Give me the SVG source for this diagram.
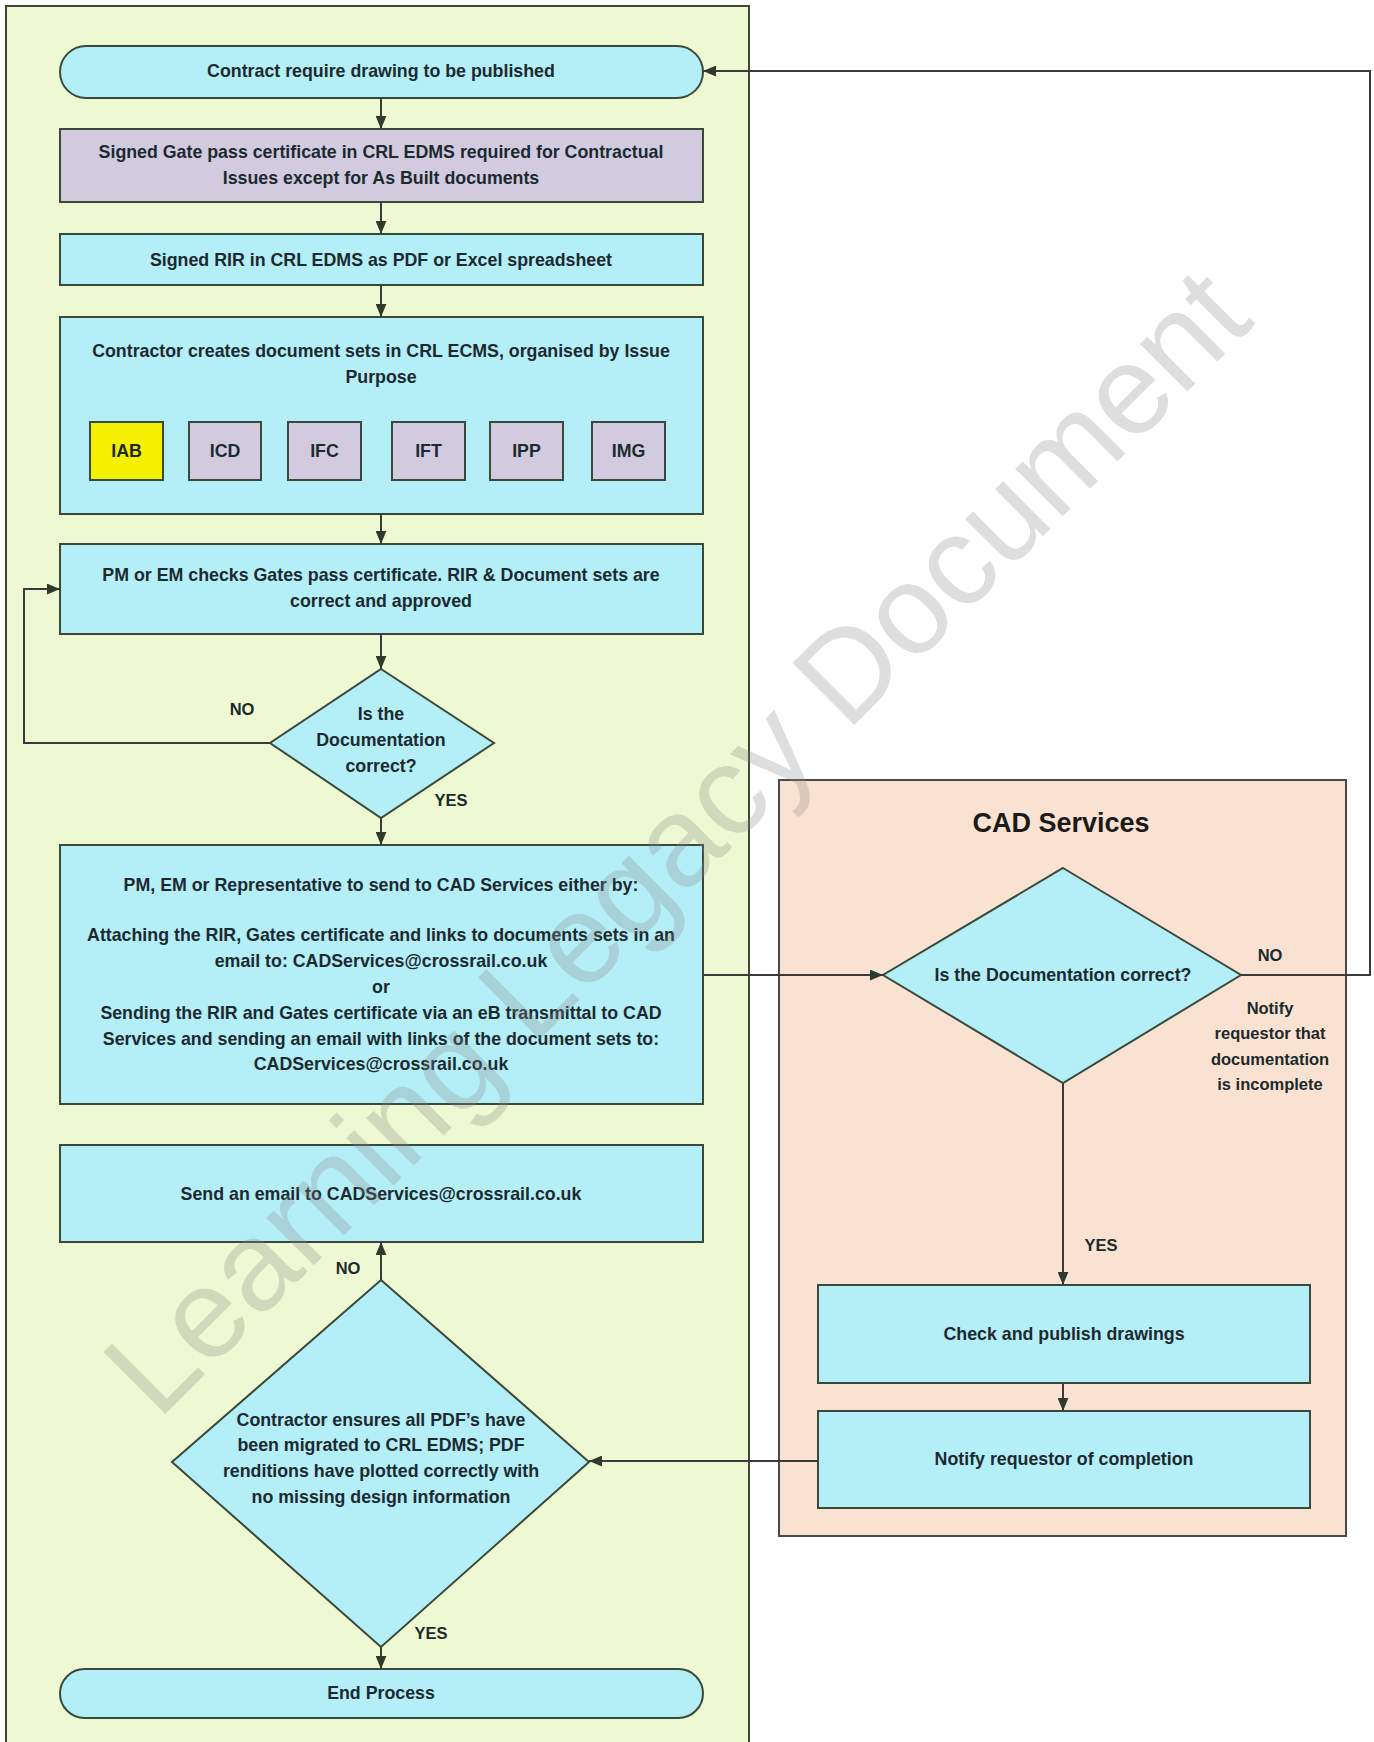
<svg xmlns="http://www.w3.org/2000/svg" width="1374" height="1742" viewBox="0 0 1374 1742">
<style>
.panel{fill:#eef8d2;stroke:#3a4a36;stroke-width:2}
.cad{fill:#fae2d3;stroke:#4a4a4a;stroke-width:2}
.box{fill:#b4eef7;stroke:#3a4a3a;stroke-width:2}
.pur{fill:#d2cbdf;stroke:#3a4a3a;stroke-width:2}
.yel{fill:#f5ef00;stroke:#3a4a3a;stroke-width:2}
.t{font-family:"Liberation Sans",Arial,sans-serif;font-weight:bold;font-size:17.8px;fill:#1c2a30;text-anchor:middle;dominant-baseline:central}
.lbl{font-family:"Liberation Sans",Arial,sans-serif;font-weight:bold;font-size:16.5px;fill:#1c2a2a;text-anchor:middle;dominant-baseline:central}
.title{font-family:"Liberation Sans",Arial,sans-serif;font-weight:bold;font-size:27px;fill:#1a1a1a;text-anchor:middle;dominant-baseline:central}
.ln{fill:none;stroke:#3a3a3a;stroke-width:2}
.wm{font-family:"Liberation Sans",Arial,sans-serif;font-size:127px;fill:#8a8a8a;fill-opacity:0.28;text-anchor:middle;dominant-baseline:central}
</style>
<defs>
<marker id="ah" viewBox="0 0 12 10" refX="12" refY="5" markerWidth="13" markerHeight="11" markerUnits="userSpaceOnUse" orient="auto">
<path d="M0,0 L12,5 L0,10 z" fill="#2e3a2e"/>
</marker>
</defs>

<g id="lane-main"><rect class="panel" x="6" y="6" width="743" height="1745"/></g>
<g id="lane-cad"><rect class="cad" x="779" y="780" width="567" height="756"/>
<text class="title" x="1061" y="823">CAD Services</text></g>

<g id="n-start"><rect class="box" x="60" y="46" width="643" height="52" rx="26"/>
<text class="t" x="381" y="71">Contract require drawing to be published</text></g>

<g id="n-gate"><rect class="pur" x="60" y="129" width="643" height="73"/>
<text class="t" x="381" y="152">Signed Gate pass certificate in CRL EDMS required for Contractual</text>
<text class="t" x="381" y="178">Issues except for As Built documents</text></g>

<g id="n-rir"><rect class="box" x="60" y="234" width="643" height="51"/>
<text class="t" x="381" y="260">Signed RIR in CRL EDMS as PDF or Excel spreadsheet</text></g>

<g id="n-sets"><rect class="box" x="60" y="317" width="643" height="197"/>
<text class="t" x="381" y="351">Contractor creates document sets in CRL ECMS, organised by Issue</text>
<text class="t" x="381" y="377">Purpose</text></g>
<g id="n-iab"><rect class="yel" x="90" y="422" width="73" height="58"/><text class="t" x="126.5" y="451">IAB</text></g>
<g id="n-icd"><rect class="pur" x="189" y="422" width="72" height="58"/><text class="t" x="225" y="451">ICD</text></g>
<g id="n-ifc"><rect class="pur" x="288" y="422" width="73" height="58"/><text class="t" x="324.5" y="451">IFC</text></g>
<g id="n-ift"><rect class="pur" x="392" y="422" width="73" height="58"/><text class="t" x="428.5" y="451">IFT</text></g>
<g id="n-ipp"><rect class="pur" x="490" y="422" width="73" height="58"/><text class="t" x="526.5" y="451">IPP</text></g>
<g id="n-img"><rect class="pur" x="592" y="422" width="73" height="58"/><text class="t" x="628.5" y="451">IMG</text></g>

<g id="n-check"><rect class="box" x="60" y="544" width="643" height="90"/>
<text class="t" x="381" y="575">PM or EM checks Gates pass certificate. RIR &amp; Document sets are</text>
<text class="t" x="381" y="601">correct and approved</text></g>

<g id="n-dec1"><polygon class="box" points="381,669 494,743 381,818 270,743"/>
<text class="t" x="381" y="714">Is the</text>
<text class="t" x="381" y="740">Documentation</text>
<text class="t" x="381" y="766">correct?</text></g>

<g id="n-send"><rect class="box" x="60" y="845" width="643" height="259"/>
<text class="t" x="381" y="885">PM, EM or Representative to send to CAD Services either by:</text>
<text class="t" x="381" y="935">Attaching the RIR, Gates certificate and links to documents sets in an</text>
<text class="t" x="381" y="961">email to: CADServices@crossrail.co.uk</text>
<text class="t" x="381" y="987">or</text>
<text class="t" x="381" y="1013">Sending the RIR and Gates certificate via an eB transmittal to CAD</text>
<text class="t" x="381" y="1039">Services and sending an email with links of the document sets to:</text>
<text class="t" x="381" y="1064">CADServices@crossrail.co.uk</text></g>

<g id="n-email"><rect class="box" x="60" y="1145" width="643" height="97"/>
<text class="t" x="381" y="1194">Send an email to CADServices@crossrail.co.uk</text></g>

<g id="n-dec2"><polygon class="box" points="381,1280 589,1462 381,1647 172,1462"/>
<text class="t" x="381" y="1420">Contractor ensures all PDF’s have</text>
<text class="t" x="381" y="1445">been migrated to CRL EDMS; PDF</text>
<text class="t" x="381" y="1471">renditions have plotted correctly with</text>
<text class="t" x="381" y="1497">no missing design information</text></g>

<g id="n-end"><rect class="box" x="60" y="1669" width="643" height="49" rx="24.5"/>
<text class="t" x="381" y="1693">End Process</text></g>

<g id="n-dec3"><polygon class="box" points="1063,868 1241,975 1063,1083 883,975"/>
<text class="t" x="1063" y="975">Is the Documentation correct?</text></g>

<g id="n-publish"><rect class="box" x="818" y="1285" width="492" height="98"/>
<text class="t" x="1064" y="1334">Check and publish drawings</text></g>

<g id="n-notify"><rect class="box" x="818" y="1411" width="492" height="97"/>
<text class="t" x="1064" y="1459">Notify requestor of completion</text></g>

<g id="connectors">
<line class="ln" x1="381" y1="98" x2="381" y2="129" marker-end="url(#ah)"/>
<line class="ln" x1="381" y1="202" x2="381" y2="234" marker-end="url(#ah)"/>
<line class="ln" x1="381" y1="285" x2="381" y2="317" marker-end="url(#ah)"/>
<line class="ln" x1="381" y1="514" x2="381" y2="544" marker-end="url(#ah)"/>
<line class="ln" x1="381" y1="634" x2="381" y2="669" marker-end="url(#ah)"/>
<polyline class="ln" points="270,743 24,743 24,589 60,589" marker-end="url(#ah)"/>
<line class="ln" x1="381" y1="818" x2="381" y2="845" marker-end="url(#ah)"/>
<line class="ln" x1="703" y1="975" x2="883" y2="975" marker-end="url(#ah)"/>
<polyline class="ln" points="1241,975 1370,975 1370,71 703,71" marker-end="url(#ah)"/>
<line class="ln" x1="1063" y1="1083" x2="1063" y2="1285" marker-end="url(#ah)"/>
<line class="ln" x1="1063" y1="1383" x2="1063" y2="1411" marker-end="url(#ah)"/>
<line class="ln" x1="818" y1="1461" x2="589" y2="1461" marker-end="url(#ah)"/>
<line class="ln" x1="381" y1="1280" x2="381" y2="1242" marker-end="url(#ah)"/>
<line class="ln" x1="381" y1="1647" x2="381" y2="1669" marker-end="url(#ah)"/>
<text class="lbl" x="242" y="709">NO</text>
<text class="lbl" x="451" y="800">YES</text>
<text class="lbl" x="1270" y="955">NO</text>
<text class="lbl" x="1270" y="1008">Notify</text>
<text class="lbl" x="1270" y="1033">requestor that</text>
<text class="lbl" x="1270" y="1059">documentation</text>
<text class="lbl" x="1270" y="1084">is incomplete</text>
<text class="lbl" x="1101" y="1245">YES</text>
<text class="lbl" x="348" y="1268">NO</text>
<text class="lbl" x="431" y="1633">YES</text>
</g>

<text class="wm" x="676" y="841" transform="rotate(-45 676 841)">Learning Legacy Document</text>
</svg>
